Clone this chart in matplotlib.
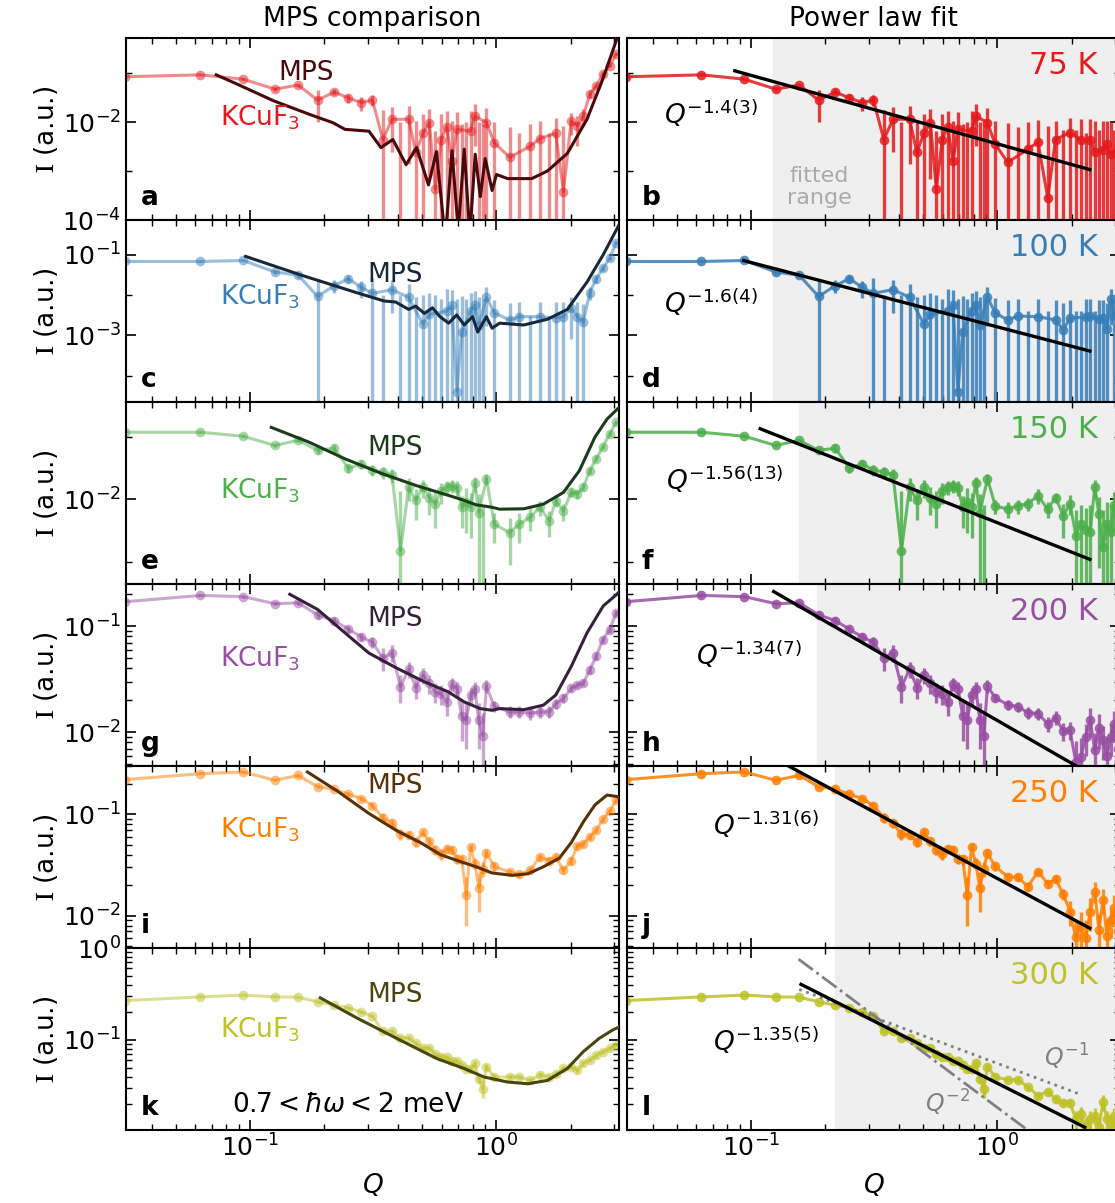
import numpy as np
import matplotlib.pyplot as plt
from matplotlib.ticker import FixedLocator, LogLocator, NullFormatter

# temperatures / colours
temps = ['75 K', '100 K', '150 K', '200 K', '250 K', '300 K']
colors = ['#e41a1c', '#377eb8', '#4daf4a', '#984ea3', '#ff7f00', '#bfc126']
mps_colors = ['#4a0a0b', '#16283a', '#1c3b1a', '#36203b', '#5a3106', '#47470f']
letters_left = ['a', 'c', 'e', 'g', 'i', 'k']
letters_right = ['b', 'd', 'f', 'h', 'j', 'l']

# Q grids
Q_LO = [0.031, 0.063, 0.094, 0.126, 0.157, 0.188, 0.220, 0.251, 0.283, 0.314,
        0.346, 0.377, 0.408, 0.440, 0.471, 0.503, 0.534, 0.565, 0.597, 0.628,
        0.660, 0.691, 0.723, 0.754, 0.785, 0.817, 0.848, 0.880, 0.911]
Q_HI_R = [0.98, 1.10, 1.21, 1.33, 1.46, 1.60, 1.72, 1.85, 1.97, 2.08, 2.18,
          2.28, 2.38, 2.48, 2.58, 2.68, 2.78, 2.88, 2.98, 3.08, 3.18, 3.28]
Q_HI_L = [0.98, 1.13, 1.24, 1.37, 1.50, 1.64, 1.74, 1.87, 2.01, 2.13, 2.25,
          2.39, 2.54, 2.70, 2.88, 3.06]

# measured intensity, low Q (shared by both columns)
i_lo = [
    [0.084, 0.092, 0.075, 0.047, 0.057, 0.028, 0.041, 0.031, 0.025, 0.028, 0.0044, 0.0114, -0.002, 0.0114,
     0.0024, 0.0059, 0.0097, 0.00043, 0.0044, 0.0080, 0.0016, 0.0071, -0.003, -0.002, 0.0065, 0.0133,
     -0.002, -0.003, 0.0097],
    [0.068, 0.068, 0.072, 0.0375, 0.031, 0.0092, 0.0172, 0.0254, 0.0155, 0.011, -0.002, 0.0136, -0.002,
     0.0088, -0.003, 0.0019, 0.0033, -0.002, -0.002, 0.004, 0.0055, 0.00004, 0.0012, -0.002, 0.004,
     0.0056, 0.0018, -0.002, 0.0087],
    [0.117, 0.117, 0.101, 0.072, 0.087, 0.06, 0.065, 0.031, 0.0365, 0.029, 0.027, 0.0243, 0.0015, 0.0154,
     0.0096, 0.0154, 0.0106, 0.0085, 0.0133, 0.0158, 0.0164, 0.0152, 0.0074, 0.0089, 0.0074, 0.0179,
     0.0061, -0.002, 0.021],
    [0.17, 0.195, 0.19, 0.163, 0.166, 0.128, 0.113, 0.0935, 0.079, 0.0705, 0.05, 0.0564, 0.0267, 0.0394,
     0.0264, 0.0347, 0.0289, 0.0239, 0.023, 0.0191, 0.0284, 0.0258, 0.0142, 0.0129, 0.0222, 0.0258,
     0.0129, 0.0093, 0.0272],
    [0.22, 0.252, 0.262, 0.217, 0.242, 0.188, 0.177, 0.158, 0.143, 0.122, 0.0925, 0.082, 0.0634, 0.063,
     0.0533, 0.0664, 0.054, 0.0448, 0.0404, 0.046, 0.0448, 0.0365, 0.036, 0.016, 0.0473, 0.0327, 0.0188,
     0.029, 0.0414],
    [0.268, 0.294, 0.308, 0.294, 0.292, 0.26, 0.239, 0.223, 0.201, 0.181, 0.124, 0.124, 0.106, 0.105,
     0.092, 0.081, 0.081, 0.0697, 0.0656, 0.065, 0.0588, 0.0585, 0.053, 0.0489, 0.0485, 0.0555, 0.038,
     0.0294, 0.051],
]
e_lo = [
    [0.002, 0.002, 0.003, 0.004, 0.004, 0.018, 0.006, 0.007, 0.008, 0.007, 0.013, 0.009, 0.012, 0.01,
     0.008, 0.009, 0.009, 0.006, 0.01, 0.009, 0.009, 0.009, 0.012, 0.012, 0.01, 0.01, 0.012, 0.012, 0.01],
    [0.002, 0.002, 0.003, 0.004, 0.005, 0.016, 0.006, 0.006, 0.007, 0.015, 0.012, 0.01, 0.012, 0.01,
     0.012, 0.008, 0.008, 0.012, 0.01, 0.01, 0.008, 0.008, 0.008, 0.01, 0.007, 0.007, 0.007, 0.01, 0.007],
    [0.002, 0.002, 0.003, 0.005, 0.005, 0.008, 0.01, 0.005, 0.006, 0.006, 0.006, 0.006, 0.012, 0.006,
     0.005, 0.005, 0.005, 0.005, 0.005, 0.004, 0.004, 0.004, 0.004, 0.006, 0.005, 0.005, 0.006, 0.01, 0.004],
    [0.003, 0.003, 0.004, 0.005, 0.006, 0.01, 0.008, 0.007, 0.007, 0.008, 0.012, 0.01, 0.008, 0.007,
     0.006, 0.006, 0.006, 0.005, 0.005, 0.005, 0.004, 0.004, 0.006, 0.006, 0.004, 0.004, 0.006, 0.006, 0.004],
    [0.003, 0.003, 0.004, 0.005, 0.006, 0.008, 0.007, 0.007, 0.007, 0.007, 0.01, 0.008, 0.008, 0.006,
     0.006, 0.005, 0.005, 0.005, 0.005, 0.004, 0.004, 0.004, 0.004, 0.008, 0.004, 0.004, 0.008, 0.005, 0.004],
    [0.003, 0.003, 0.003, 0.003, 0.004, 0.005, 0.005, 0.005, 0.005, 0.005, 0.006, 0.006, 0.005, 0.005,
     0.004, 0.004, 0.004, 0.004, 0.004, 0.004, 0.003, 0.003, 0.003, 0.003, 0.003, 0.004, 0.004, 0.006, 0.004],
]

# high Q, right column (power law panels)
i_hi_r = [
    [0.0035, 0.0015, -0.002, 0.0028, 0.0039, 0.00028, 0.0044, -0.002, 0.0061, -0.002, 0.0043, -0.003,
     0.0043, 0.0025, -0.002, 0.0027, 0.0035, 0.0022, -0.002, 0.003, -0.002, 0.0025],
    [0.0036, 0.0024, 0.003, -0.002, 0.0029, -0.002, 0.0024, 0.00135, 0.0027, -0.002, -0.002, 0.0028,
     0.003, -0.002, 0.0025, 0.0027, 0.0014, 0.0078, 0.003, -0.002, 0.004, 0.002],
    [0.0078, 0.0069, 0.0078, 0.0085, 0.0113, 0.0069, 0.0106, 0.0054, 0.0085, 0.0026, 0.004, 0.0032,
     0.003, 0.0154, 0.0058, 0.0017, 0.004, 0.003, 0.008, 0.0035, 0.005, 0.003],
    [0.0211, 0.0182, 0.0174, 0.0153, 0.015, 0.012, 0.0137, 0.0102, 0.0104, 0.0052, 0.0058, 0.009,
     0.013, 0.0068, 0.011, 0.0085, 0.006, 0.009, 0.012, 0.007, 0.01, 0.008],
    [0.0306, 0.0242, 0.024, 0.0194, 0.0272, 0.0207, 0.023, 0.0162, 0.011, 0.0061, 0.0079, 0.006,
     0.011, 0.0173, 0.0073, 0.0144, 0.0063, 0.009, 0.012, 0.007, 0.01, 0.0085],
    [0.0396, 0.037, 0.037, 0.0308, 0.0249, 0.0275, 0.0228, 0.0206, 0.0206, 0.0138, 0.0155, 0.0112,
     0.0138, 0.015, 0.0112, 0.021, 0.0138, 0.0123, 0.015, 0.012, 0.014, 0.013],
]
e_hi_r = [
    [0.007, 0.008, 0.01, 0.007, 0.007, 0.008, 0.006, 0.009, 0.006, 0.009, 0.007, 0.009, 0.007, 0.008,
     0.009, 0.008, 0.007, 0.008, 0.009, 0.008, 0.009, 0.008],
    [0.005, 0.005, 0.005, 0.006, 0.005, 0.006, 0.005, 0.005, 0.005, 0.006, 0.006, 0.005, 0.005, 0.006,
     0.005, 0.005, 0.005, 0.006, 0.005, 0.006, 0.006, 0.005],
    [0.002, 0.002, 0.002, 0.002, 0.003, 0.002, 0.002, 0.003, 0.003, 0.004, 0.004, 0.004, 0.005, 0.005,
     0.005, 0.005, 0.005, 0.005, 0.005, 0.005, 0.005, 0.005],
    [0.002, 0.002, 0.002, 0.002, 0.002, 0.002, 0.002, 0.002, 0.002, 0.003, 0.003, 0.003, 0.004, 0.003,
     0.004, 0.003, 0.003, 0.003, 0.004, 0.003, 0.004, 0.003],
    [0.003, 0.002, 0.002, 0.002, 0.002, 0.002, 0.002, 0.002, 0.003, 0.003, 0.003, 0.003, 0.004, 0.004,
     0.003, 0.004, 0.003, 0.003, 0.004, 0.003, 0.004, 0.003],
    [0.003, 0.002, 0.002, 0.002, 0.002, 0.002, 0.002, 0.002, 0.002, 0.003, 0.003, 0.003, 0.003, 0.003,
     0.003, 0.004, 0.003, 0.003, 0.003, 0.003, 0.003, 0.003],
]

# high Q, left column (comparison panels)
i_hi_l = [
    [0.0038, 0.0019, -0.002, 0.0032, 0.0046, -0.002, 0.0059, 0.00038, 0.0105, 0.0083, 0.0133, 0.037,
     0.055, 0.095, 0.14, 0.245],
    [0.0036, 0.0024, 0.0029, -0.002, 0.0029, -0.002, 0.0027, 0.0029, 0.0048, 0.0029, 0.0021, 0.0115,
     0.025, 0.046, 0.082, 0.2],
    [0.004, 0.0029, 0.004, 0.0051, 0.0074, 0.0045, 0.0094, 0.0065, 0.0128, 0.0122, 0.0154, 0.0285,
     0.044, 0.068, 0.11, 0.17],
    [0.0175, 0.0155, 0.0155, 0.0151, 0.0155, 0.0155, 0.0186, 0.0208, 0.0259, 0.0279, 0.029, 0.0387,
     0.052, 0.0747, 0.093, 0.134],
    [0.0306, 0.027, 0.0255, 0.028, 0.038, 0.035, 0.038, 0.028, 0.035, 0.049, 0.051, 0.06, 0.07,
     0.089, 0.108, 0.137],
    [0.0396, 0.0396, 0.0396, 0.0363, 0.042, 0.0396, 0.0425, 0.049, 0.051, 0.047, 0.0555, 0.0603,
     0.0684, 0.0746, 0.081, 0.088],
]
e_hi_l = [
    [0.006, 0.006, 0.008, 0.006, 0.006, 0.008, 0.006, 0.008, 0.005, 0.005, 0.005, 0.006, 0.006, 0.008,
     0.01, 0.015],
    [0.004, 0.004, 0.004, 0.005, 0.004, 0.005, 0.004, 0.004, 0.004, 0.004, 0.004, 0.004, 0.005, 0.006,
     0.008, 0.012],
    [0.002, 0.002, 0.002, 0.002, 0.002, 0.002, 0.002, 0.002, 0.002, 0.002, 0.002, 0.003, 0.004, 0.005,
     0.008, 0.01],
    [0.002, 0.002, 0.002, 0.002, 0.002, 0.002, 0.002, 0.002, 0.002, 0.002, 0.002, 0.003, 0.004, 0.005,
     0.006, 0.008],
    [0.003, 0.002, 0.002, 0.002, 0.003, 0.003, 0.003, 0.002, 0.003, 0.003, 0.003, 0.004, 0.004, 0.005,
     0.006, 0.008],
    [0.003, 0.002, 0.002, 0.002, 0.003, 0.002, 0.003, 0.003, 0.003, 0.003, 0.003, 0.003, 0.004, 0.004,
     0.005, 0.005],
]

# MPS simulation curves
mps_q = [
    [0.073, 0.089, 0.125, 0.174, 0.217, 0.243, 0.304, 0.34, 0.38, 0.43, 0.474, 0.53, 0.571, 0.62, 0.66,
     0.70, 0.74, 0.78, 0.82, 0.86, 0.90, 0.96, 1.0, 1.11, 1.39, 1.61, 1.94, 2.33, 2.7, 3.08, 3.14],
    [0.096, 0.162, 0.27, 0.35, 0.39, 0.44, 0.47, 0.51, 0.55, 0.59, 0.64, 0.69, 0.74, 0.80, 0.84, 0.91,
     0.96, 1.03, 1.29, 1.61, 1.94, 2.33, 2.71, 3.08, 3.14],
    [0.122, 0.174, 0.243, 0.34, 0.474, 0.615, 0.713, 0.828, 0.96, 1.03, 1.29, 1.55, 1.87, 2.17, 2.51,
     2.81, 3.08, 3.14],
    [0.145, 0.188, 0.243, 0.304, 0.394, 0.51, 0.638, 0.74, 0.859, 0.96, 1.03, 1.29, 1.55, 1.74, 2.01,
     2.33, 2.71, 3.08, 3.14],
    [0.171, 0.226, 0.304, 0.394, 0.492, 0.593, 0.713, 0.828, 0.96, 1.16, 1.34, 1.55, 1.8, 2.01, 2.25,
     2.51, 2.81, 3.08, 3.14],
    [0.193, 0.272, 0.394, 0.571, 0.74, 0.89, 1.11, 1.34, 1.61, 1.94, 2.25, 2.61, 2.97, 3.14],
]
mps_i = [
    [0.092, 0.059, 0.027, 0.0144, 0.0097, 0.0071, 0.0065, 0.003, 0.0044, 0.00135, 0.003, 0.00052,
     0.0025, 0.00004, 0.0026, 0.00006, 0.0028, 0.00005, 0.0022, 0.0003, 0.0018, 0.0004, 0.00085,
     0.0007, 0.0007, 0.001, 0.0023, 0.0114, 0.075, 0.5, 0.6],
    [0.091, 0.031, 0.0115, 0.0071, 0.0067, 0.0044, 0.0053, 0.0035, 0.0048, 0.0029, 0.002, 0.0032,
     0.0018, 0.0029, 0.0012, 0.0029, 0.0015, 0.002, 0.0018, 0.0025, 0.0044, 0.021, 0.1, 0.44, 0.55],
    [0.14, 0.081, 0.044, 0.0259, 0.0164, 0.012, 0.01, 0.0081, 0.0074, 0.0069, 0.007, 0.0083, 0.0128,
     0.0285, 0.098, 0.19, 0.27, 0.29],
    [0.2, 0.144, 0.0865, 0.0557, 0.0402, 0.0299, 0.024, 0.0193, 0.0167, 0.0161, 0.0167, 0.0163, 0.018,
     0.0224, 0.0416, 0.0865, 0.155, 0.2, 0.21],
    [0.262, 0.17, 0.102, 0.069, 0.0526, 0.04, 0.0342, 0.0304, 0.0264, 0.025, 0.0259, 0.0304, 0.037,
     0.0526, 0.084, 0.124, 0.155, 0.15, 0.145],
    [0.287, 0.173, 0.104, 0.063, 0.0489, 0.0396, 0.0349, 0.0334, 0.0363, 0.049, 0.0746, 0.104, 0.129,
     0.138],
]

# power law fits: exponent, amplitude, Q range of the drawn line, start of fitted range
fit_exp = [1.4, 1.6, 1.56, 1.34, 1.31, 1.35]
fit_amp = [0.00358, 0.001615, 0.00419, 0.01288, 0.02327, 0.0338]
fit_qmin = [0.086, 0.0935, 0.109, 0.1236, 0.1396, 0.1596]
fit_qmax = [2.37, 2.37, 2.37, 2.06, 2.37, 2.26]
fit_range = [0.1225, 0.1225, 0.157, 0.185, 0.219, 0.219]
fit_text = [r'$Q^{-1.4(3)}$', r'$Q^{-1.6(4)}$', r'$Q^{-1.56(13)}$',
            r'$Q^{-1.34(7)}$', r'$Q^{-1.31(6)}$', r'$Q^{-1.35(5)}$']
fit_text_pos = [(0.075, 0.58), (0.075, 0.54), (0.08, 0.57), (0.14, 0.61), (0.175, 0.675), (0.175, 0.49)]

# reference slopes in panel l
ref_q2 = [0.156, 1.6]
ref_amp2 = 0.0184
ref_q1 = [0.157, 2.2]
ref_amp1 = 0.0556

ylims = [(1e-4, 0.52), (2.2e-5, 0.73), (4.4e-4, 0.356), (0.0048, 0.25), (0.0048, 0.3), (0.0105, 1.0)]
yticks = [[1e-4, 1e-2], [1e-3, 1e-1], [1e-2], [1e-2, 1e-1], [1e-2, 1e-1], [1e-1, 1.0]]
yminor = [[1e-3, 1e-1], [1e-4, 1e-2], [1e-3, 1e-1], None, None, None]

mps_label_pos = [(0.31, 0.81), (0.49, 0.70), (0.49, 0.75), (0.49, 0.81), (0.49, 0.89), (0.49, 0.74)]
k_label_pos = [(0.19, 0.56), (0.19, 0.58), (0.19, 0.51), (0.19, 0.59), (0.19, 0.65), (0.19, 0.55)]

W, H = 1115, 1203
fig = plt.figure(figsize=(W / 100, H / 100), dpi=100)

FS = 18
xlim = (np.pi / 100, np.pi)


def style_axes(ax, row, left):
    ax.set_xscale('log')
    ax.set_yscale('log', nonpositive='clip')
    ax.set_xlim(*xlim)
    ax.set_ylim(*ylims[row])
    ax.yaxis.set_major_locator(FixedLocator(yticks[row]))
    if yminor[row] is not None:
        ax.yaxis.set_minor_locator(FixedLocator(yminor[row]))
    else:
        ax.yaxis.set_minor_locator(LogLocator(base=10, subs=np.arange(2, 10), numticks=20))
    ax.yaxis.set_minor_formatter(NullFormatter())
    ax.xaxis.set_minor_formatter(NullFormatter())
    ax.tick_params(which='both', direction='in', top=True, right=True, labelsize=FS)
    ax.tick_params(which='major', length=7, width=1.2)
    ax.tick_params(which='minor', length=4, width=1.0)
    for s in ax.spines.values():
        s.set_linewidth(1.5)
    if row < 5:
        ax.tick_params(labelbottom=False)
    else:
        ax.set_xlabel(r'$Q$', fontsize=FS + 1, labelpad=7)
    if left:
        ax.set_ylabel(r'$\mathrm{I}$ (a.u.)', fontsize=FS + 1, labelpad=2, math_fontfamily='stix')
    else:
        ax.tick_params(labelleft=False)


def draw_data(ax, q, i, e, color, alpha):
    q = np.array(q)
    i = np.array(i)
    e = np.array(e)
    ax.errorbar(q, i, yerr=e, fmt='none', ecolor=color, elinewidth=2.4, alpha=alpha, zorder=2)
    ok = i > 0
    ax.plot(q[ok], i[ok], '-o', color=color, lw=2.2, ms=7, mew=0, alpha=alpha, zorder=2)


row_h = 182 / H
for r in range(6):
    bottom = 1 - (38 + 182 * (r + 1)) / H
    axl = fig.add_axes([126 / W, bottom, 493 / W, row_h])
    axr = fig.add_axes([627 / W, bottom, 493 / W, row_h])
    c = colors[r]

    # left column: comparison with MPS
    style_axes(axl, r, True)
    draw_data(axl, Q_LO + Q_HI_L, i_lo[r] + i_hi_l[r], e_lo[r] + e_hi_l[r], c, 0.5)
    axl.plot(mps_q[r], mps_i[r], color=mps_colors[r], lw=2.2, zorder=3)
    axl.text(*mps_label_pos[r], 'MPS', color=mps_colors[r], fontsize=FS + 1,
             transform=axl.transAxes, ha='left', va='center')
    axl.text(*k_label_pos[r], r'KCuF$_3$', color=c, fontsize=FS + 1,
             transform=axl.transAxes, ha='left', va='center')
    axl.text(0.03, 0.12, letters_left[r], fontsize=FS + 1, fontweight='bold',
             transform=axl.transAxes, ha='left', va='center')

    # right column: power law fit
    style_axes(axr, r, False)
    axr.axvspan(fit_range[r], 10, color='#efefef', zorder=0)
    draw_data(axr, Q_LO + Q_HI_R, i_lo[r] + i_hi_r[r], e_lo[r] + e_hi_r[r], c, 0.85)
    qf = np.array([fit_qmin[r], fit_qmax[r]])
    axr.plot(qf, fit_amp[r] * qf ** (-fit_exp[r]), color='black', lw=2.4, zorder=4)
    axr.text(*fit_text_pos[r], fit_text[r], fontsize=FS + 1, transform=axr.transAxes,
             ha='left', va='center')
    axr.text(0.955, 0.85, temps[r], color=c, fontsize=FS + 4, transform=axr.transAxes,
             ha='right', va='center')
    axr.text(0.03, 0.12, letters_right[r], fontsize=FS + 1, fontweight='bold',
             transform=axr.transAxes, ha='left', va='center')

    if r == 0:
        axl.set_title('MPS comparison', fontsize=FS + 1, pad=9)
        axr.set_title('Power law fit', fontsize=FS + 1, pad=9)
        axr.text(0.39, 0.18, 'fitted\nrange', color='#aaaaaa', fontsize=FS - 2,
                 transform=axr.transAxes, ha='center', va='center', linespacing=1.1)
    if r == 5:
        axl.text(0.45, 0.14, r'$0.7 < \hbar\omega < 2$ meV', fontsize=FS + 1,
                 transform=axl.transAxes, ha='center', va='center')
        q2 = np.array(ref_q2)
        axr.plot(q2, ref_amp2 * q2 ** -2, color='#808080', lw=2, ls='-.', zorder=3)
        q1 = np.array(ref_q1)
        axr.plot(q1, ref_amp1 * q1 ** -1, color='#808080', lw=2, ls=':', zorder=3)
        axr.text(0.845, 0.40, r'$Q^{-1}$', color='#808080', fontsize=FS - 1,
                 transform=axr.transAxes, ha='left', va='center')
        axr.text(0.605, 0.15, r'$Q^{-2}$', color='#808080', fontsize=FS - 1,
                 transform=axr.transAxes, ha='left', va='center')

fig.savefig('out.png', dpi=100)
